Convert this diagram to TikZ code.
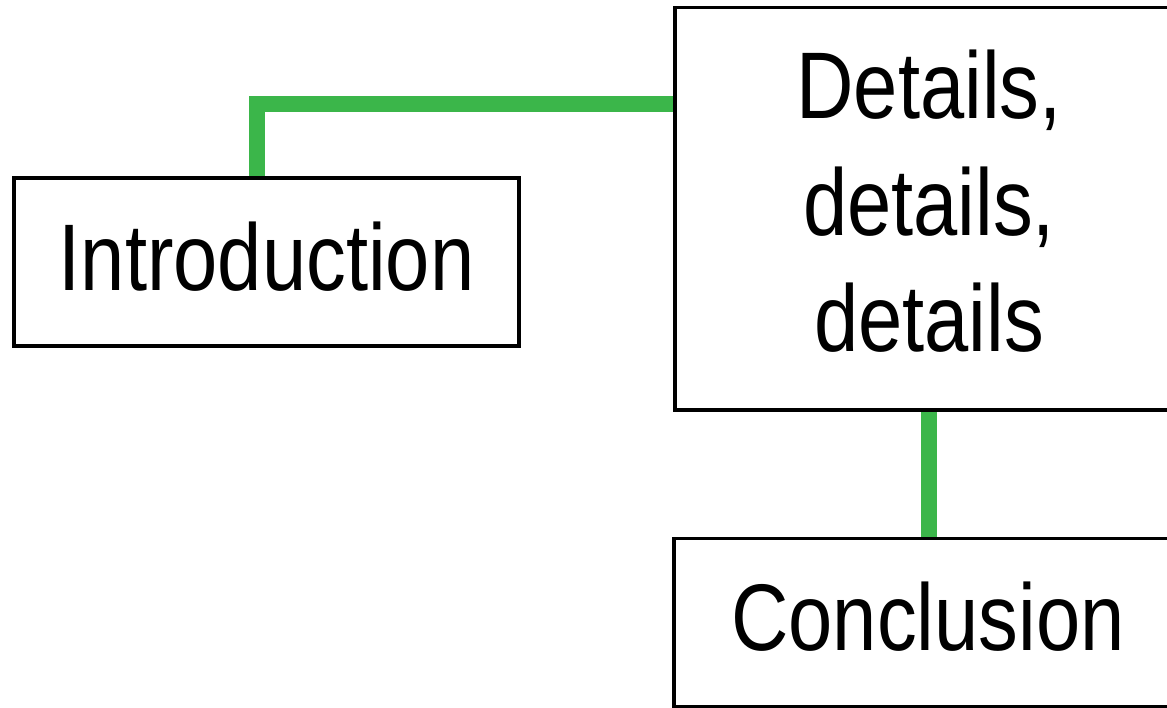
\documentclass[tikz,border=0pt]{standalone}
\usepackage{fontspec}
\setmainfont{Liberation Sans}[FakeStretch=0.84]
\usetikzlibrary{backgrounds}
\definecolor{grn}{RGB}{59,182,74}
\begin{document}
\begin{tikzpicture}[x=0.75pt,y=-0.75pt,
  box/.style={draw=black, line width=2.4pt, fill=white, inner sep=0pt,
    font=\fontsize{71}{87.4}\selectfont, align=center},
  one/.style={text height=54pt, text depth=12pt},
  link/.style={draw=grn, line width=12pt}]
\useasboundingbox (0,0) rectangle (1167,707);
\clip (0,0) rectangle (1167,707);
\node[box, one, minimum width=378.75pt, minimum height=126pt] (intro) at (266.5,262) {Introduction};
\node[box, text depth=12pt, minimum width=381pt, minimum height=301.9pt] (details) at (929,208.75) {Details,\\details,\\details};
\node[box, one, minimum width=381pt, minimum height=126pt] (concl) at (928,622.5) {Conclusion};
\coordinate (bend) at (256.5,103.5);
\coordinate (down) at (929,0);
\begin{scope}[on background layer]
\draw[link] (intro.north -| bend) -- (bend) -- (bend -| details.west);
\draw[link] (details.south -| down) -- (concl.north -| down);
\end{scope}
\end{tikzpicture}
\end{document}
